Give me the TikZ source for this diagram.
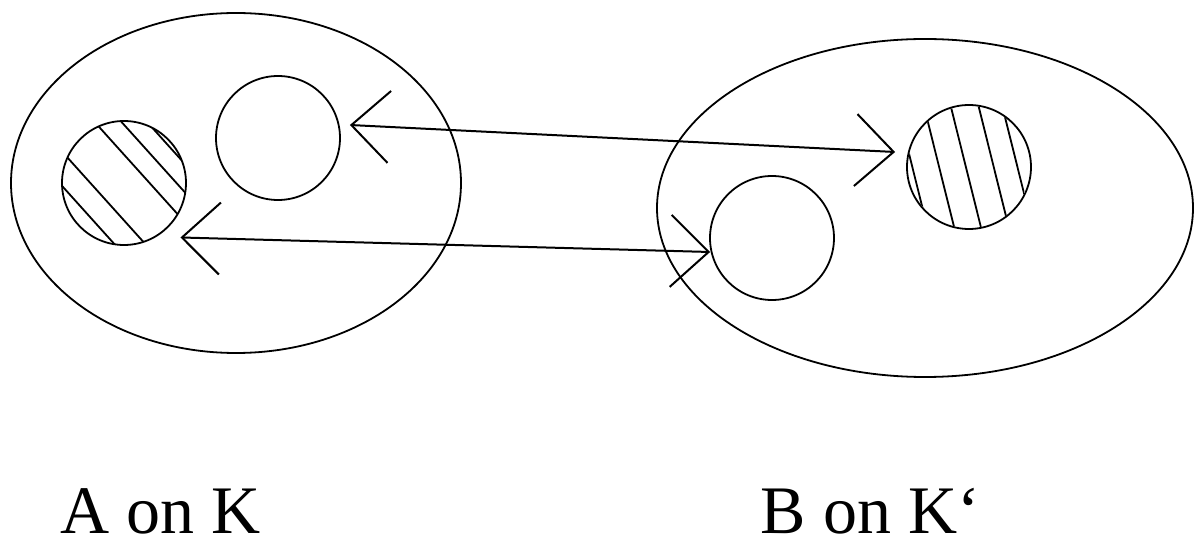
\documentclass[tikz,border=0pt]{standalone}
\usepackage{fontspec}
\setmainfont{Liberation Serif}
\usetikzlibrary{shapes.geometric,arrows.meta}

\begin{document}
\begin{tikzpicture}[x=0.5pt, y=0.5pt, line width=0.9pt,
  blob/.style={draw, ellipse, inner sep=0pt},
  ball/.style={draw, circle, inner sep=0pt, minimum size=62pt},
  arr/.style={{Straight Barb[length=19pt,width=36pt]}-{Straight Barb[length=19pt,width=36pt]}, line width=1pt},
  lbl/.style={font=\fontsize{34}{40}\selectfont, inner sep=0pt, anchor=base west}]
\useasboundingbox (0,0) rectangle (1201,552);
\node[blob, minimum width=225pt, minimum height=170pt] (setA) at (236,369) {};
\node[blob, minimum width=268pt, minimum height=169pt] (setB) at (925,344) {};
\node[ball] (hA) at (124,369) {};
\node[ball] (pA) at (278,414) {};
\node[ball] (pB) at (772,314) {};
\node[ball] (hB) at (969,385) {};
% hatching
\begin{scope}
  \clip (hA.center) circle[radius=62];
  \foreach \d in {58,39,19,-25,-48}
    \draw ([shift={(42:\d)}]hA.center) ++(132:80) -- ++(-48:160);
\end{scope}
\begin{scope}
  \clip (hB.center) circle[radius=61];
  \foreach \d in {-55,-29,-3,24,47}
    \draw ([shift={(14:\d)}]hB.center) ++(104:80) -- ++(-76:160);
\end{scope}
\draw[arr] ([shift={(9,13)}]pA.east) -- ([shift={(-11,15)}]hB.west);
\draw[arr] ([shift={(12,-10)}]hA.south east) -- ([shift={(1,-14)}]pB.west);
\node[lbl] (labA) at (60,18) {A on K};
\node[lbl] (labB) at (760,18) {B on K`};
\end{tikzpicture}
\end{document}
